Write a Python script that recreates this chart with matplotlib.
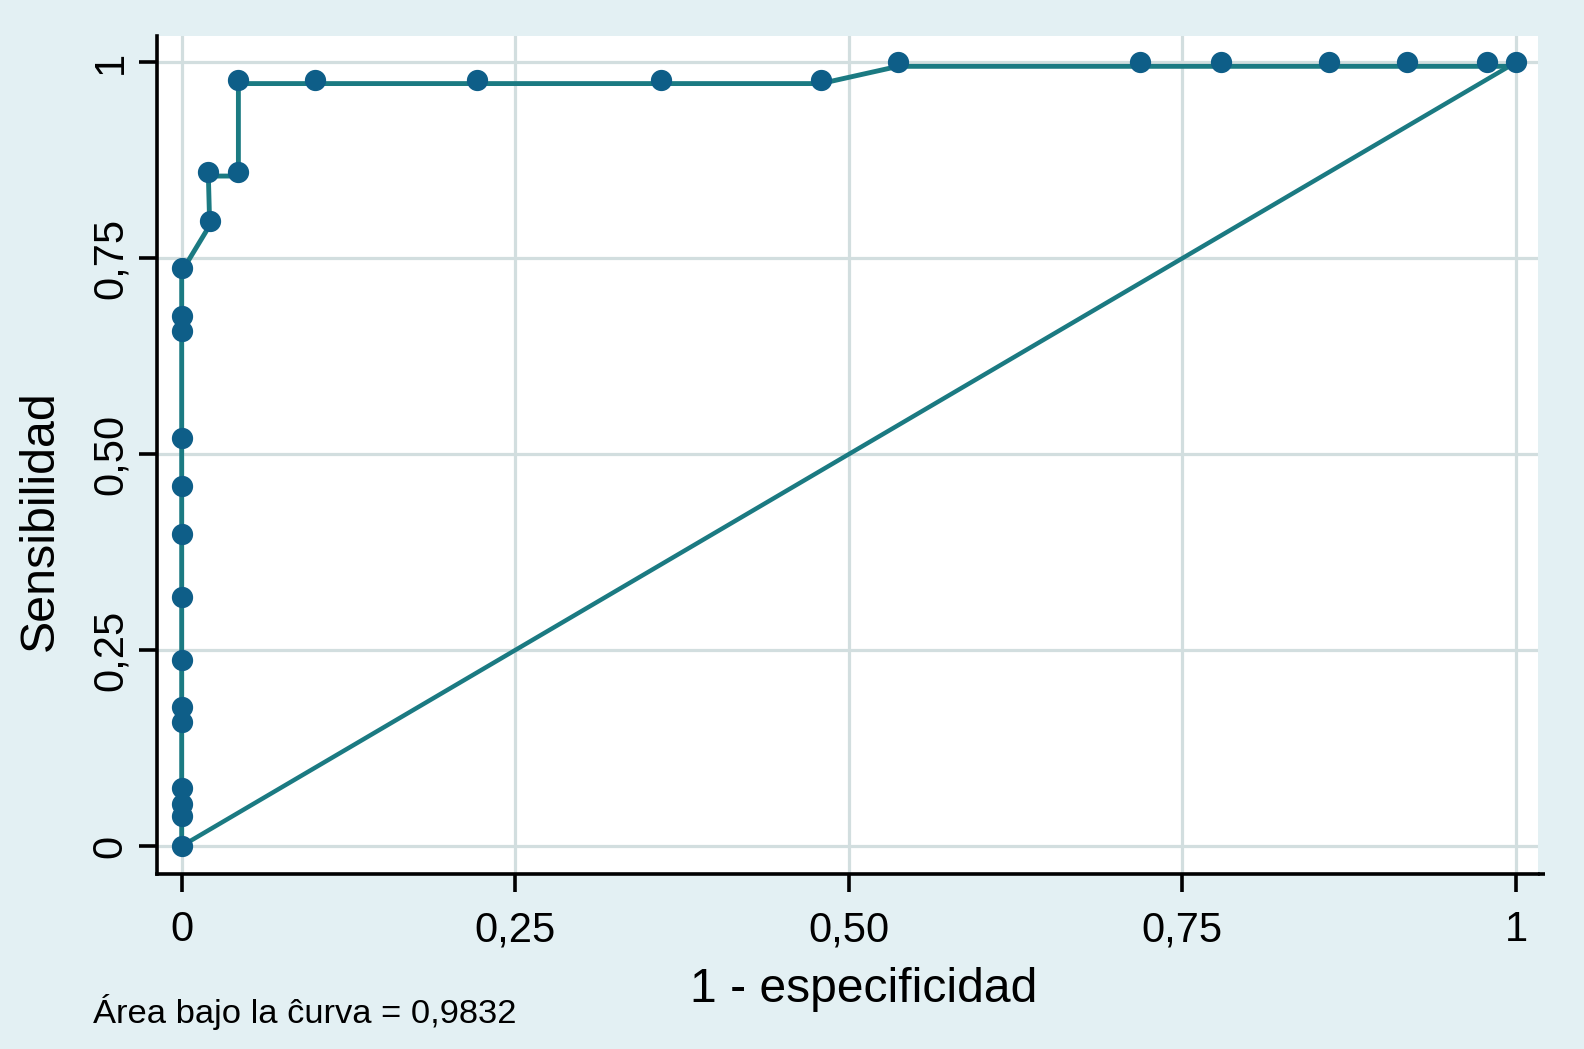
import matplotlib.pyplot as plt
import matplotlib.transforms as mtransforms

# ROC points
fpr = [0, 0, 0, 0, 0, 0, 0, 0, 0, 0, 0, 0, 0, 0,
       0.021, 0.020, 0.0425, 0.0425, 0.100, 0.221, 0.359, 0.479,
       0.537, 0.718, 0.779, 0.860, 0.918, 0.978, 1.0]
sens = [0, 0.038, 0.0535, 0.074, 0.158, 0.177, 0.238, 0.318, 0.398, 0.459,
        0.521, 0.657, 0.676, 0.738, 0.797, 0.860, 0.860, 0.978, 0.978,
        0.978, 0.978, 0.978, 1, 1, 1, 1, 1, 1, 1]
ref_x = [0, 1]
ref_y = [0, 1]
ticks = [0, 0.25, 0.5, 0.75, 1]
tick_labels = ['0', '0,25', '0,50', '0,75', '1']
auc_text = 'Área bajo la ĉurva = 0,9832'

plt.rcParams['font.family'] = ['Liberation Sans', 'DejaVu Sans']

bg = '#E3F0F3'
grid_col = '#D2DEDF'
line_col = '#1B7A82'
marker_col = '#0E5E88'

fig = plt.figure(figsize=(15.84, 10.49), dpi=100, facecolor=bg)
ax = fig.add_axes([157 / 1584, 1 - 874 / 1049, (1538 - 157) / 1584, (874 - 36) / 1049])
ax.set_facecolor('white')

ax.set_xlim(-0.0185, 1.0165)
ax.set_ylim(-0.0357, 1.0336)

ax.grid(True, color=grid_col, linewidth=2.3)
ax.set_axisbelow(True)

# the curve line is drawn slightly below the markers in the original
shifted = mtransforms.offset_copy(ax.transData, fig=fig, y=-4, units='dots')
ax.plot(fpr, sens, color=line_col, linewidth=3.5, transform=shifted, zorder=2)
ax.plot(ref_x, ref_y, color=line_col, linewidth=3.2, zorder=2)
ax.plot(fpr, sens, linestyle='none', marker='o', markersize=14.3,
        color=marker_col, zorder=3, clip_on=False)

for s in ['top', 'right']:
    ax.spines[s].set_visible(False)
for s in ['left', 'bottom']:
    ax.spines[s].set_linewidth(2.6)
    ax.spines[s].set_color('black')

ax.set_xticks(ticks)
ax.set_xticklabels(tick_labels)
ax.set_yticks(ticks)
ax.set_yticklabels(tick_labels, rotation=90, va='center')
ax.tick_params(axis='both', length=13, width=2.6, labelsize=30, colors='black')
ax.tick_params(axis='x', pad=13)
ax.tick_params(axis='y', pad=6)

# bottom axis line runs a bit past the plot region
ax.plot([1.0165, 1.0218], [-0.0357, -0.0357], color='black', linewidth=2.6,
        clip_on=False, solid_capstyle='butt')

fig.text(864 / 1584, 1 - 1002 / 1049, '1 - especificidad', ha='center',
         va='baseline', fontsize=34.6)
fig.text(53 / 1584, 1 - 521 / 1049, 'Sensibilidad', ha='center', va='baseline',
         rotation=90, rotation_mode='anchor', fontsize=34.8)
fig.text(93 / 1584, 1 - 1023 / 1049, auc_text, ha='left', va='baseline',
         fontsize=24.8)

fig.savefig('out.png', dpi=100, facecolor=bg)
